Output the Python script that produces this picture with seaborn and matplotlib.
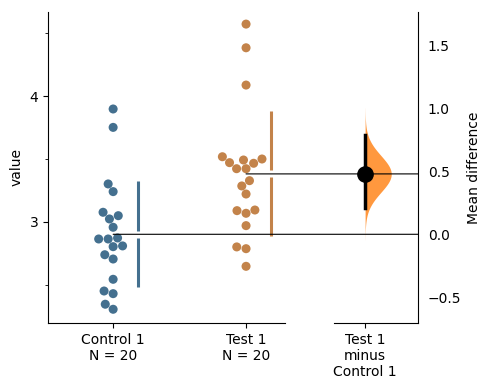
import numpy as np
import pandas as pd
import matplotlib
matplotlib.use("Agg")
import matplotlib.pyplot as plt
import seaborn as sns
from matplotlib.patches import ConnectionPatch
from matplotlib.ticker import MultipleLocator

# values
control = [3.897, 3.751, 3.302, 3.241, 3.077, 3.024, 3.050, 2.958, 2.865, 2.865,
           2.873, 2.804, 2.810, 2.740, 2.706, 2.545, 2.452, 2.431, 2.347, 2.307]
test = [4.571, 4.383, 4.087, 3.518, 3.471, 3.492, 3.423, 3.423, 3.466, 3.500,
        3.328, 3.286, 3.222, 3.090, 3.069, 3.095, 2.971, 2.802, 2.788, 2.648]
groups = ["Control 1", "Test 1"]
contrast_label = "Test 1\nminus\nControl 1"
ci_low, ci_high = 0.212, 0.788

plt.rcParams['font.family'] = ['DejaVu Sans']

df = pd.DataFrame({
    "group": [groups[0]] * len(control) + [groups[1]] * len(test),
    "value": control + test,
})

blue = sns.desaturate("tab:blue", 0.5)
orange = sns.desaturate("tab:orange", 0.5)
palette = {groups[0]: blue, groups[1]: orange}

fig = plt.figure(figsize=(4.9, 3.9), dpi=100)
ax1 = fig.add_axes([48 / 490, 67 / 390, 237 / 490, 311 / 390])
ax2 = fig.add_axes([334 / 490, 67 / 390, 84 / 490, 311 / 390])

sns.swarmplot(data=df, x="group", y="value", hue="group", palette=palette,
              size=6.5, ax=ax1, legend=False, zorder=3)

ylim1 = (2.198, 4.667)
ax1.set_ylim(ylim1)
ax1.set_xlim(-0.49, 1.293)

means = [np.mean(control), np.mean(test)]
sds = [np.std(control, ddof=1), np.std(test, ddof=1)]
gap = 0.028
for i, (m, s) in enumerate(zip(means, sds)):
    col = [blue, orange][i]
    x = i + 0.19
    ax1.plot([x, x], [m - s, m - gap], color=col, lw=2.2, solid_capstyle="butt")
    ax1.plot([x, x], [m + gap, m + s], color=col, lw=2.2, solid_capstyle="butt")

ax1.set_xticks([0, 1])
ax1.set_xticklabels([f"{g}\nN = {n}" for g, n in zip(groups, [len(control), len(test)])])
ax1.set_xlabel("")
ax1.set_ylabel("value")
ax1.yaxis.set_major_locator(MultipleLocator(1))
ax1.yaxis.set_minor_locator(MultipleLocator(0.5))
sns.despine(ax=ax1)

# contrast axes
diff = means[1] - means[0]
se = np.sqrt(sds[0] ** 2 / len(control) + sds[1] ** 2 / len(test))
yy = np.linspace(diff - 3.6 * se, diff + 3.6 * se, 300)
dens = np.exp(-0.5 * ((yy - diff) / se) ** 2)
ax2.fill_betweenx(yy, 0, dens * 0.42, color="tab:orange", alpha=0.8, lw=0)
ax2.plot([0, 0], [ci_low, ci_high], color="black", lw=2.5, zorder=4)
ax2.plot([0], [diff], "o", color="black", markersize=11, zorder=5)

ax2.set_xlim(-0.5, 0.85)
ax2.set_ylim(ylim1[0] - means[0], ylim1[1] - means[0])
ax2.set_xticks([0])
ax2.set_xticklabels([contrast_label])
ax2.yaxis.tick_right()
ax2.yaxis.set_label_position("right")
ax2.set_ylabel("Mean difference")
ax2.yaxis.set_major_locator(MultipleLocator(0.5))
ax2.yaxis.set_minor_locator(MultipleLocator(0.25))
sns.despine(ax=ax2, left=True, right=False)

# reference lines from group means across into the contrast axes
for i, m in enumerate(means):
    con = ConnectionPatch(xyA=(i, m), coordsA=ax1.transData,
                          xyB=(0.85, m - means[0]), coordsB=ax2.transData,
                          color="black", lw=0.8, zorder=1)
    fig.add_artist(con)

fig.savefig("out.png", dpi=100)
